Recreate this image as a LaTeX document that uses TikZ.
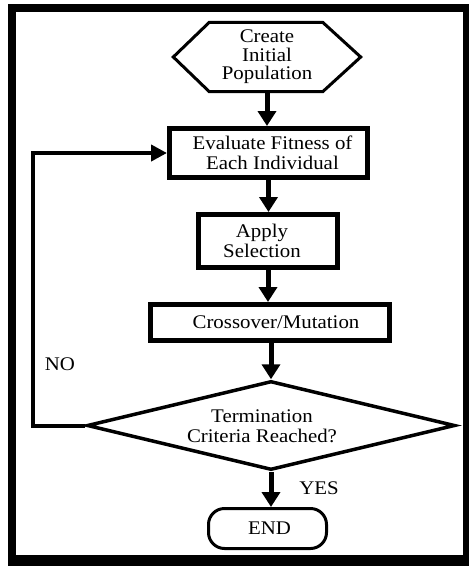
\documentclass[tikz,border=0pt]{standalone}
\usepackage{fontspec}
\setmainfont{Liberation Serif}[FakeStretch=1.08]
\usetikzlibrary{arrows.meta,shapes.geometric}
\begin{document}
\begin{tikzpicture}[x=1pt,y=-1pt,
  every node/.style={font=\fontsize{19.3}{20}\selectfont, align=center, inner sep=0pt},
  boxthick/.style={draw, line width=5pt, rectangle},
  flow/.style={line width=5pt, -{Triangle[width=18pt,length=15pt]}},
  loopline/.style={line width=4pt, -{Triangle[width=16pt,length=16pt]}},
  shapeline/.style={line width=3pt},
  lbl/.style={}]
\useasboundingbox (0,0) rectangle (469,566);
\fill[black] (8,4) rectangle (469,566);
\fill[white] (16,12) rectangle (463,555);

\node[minimum width=187pt, minimum height=69pt,
  font=\fontsize{19.3}{18.5}\selectfont] (hex) at (267,57) {Create\\Initial\\Population};
\draw[shapeline, line join=miter] (hex.west) -- ([xshift=36pt]hex.north west) -- ([xshift=-38pt]hex.north east)
  -- (hex.east) -- ([xshift=-38pt]hex.south east) -- ([xshift=36pt]hex.south west) -- cycle;

\node[boxthick, minimum width=198pt, minimum height=49pt] (eval) at (268.5,153) {};
\node (evaltext) at ([xshift=4pt]eval.center) {Evaluate Fitness of\\Each Individual};
\node[boxthick, minimum width=139pt, minimum height=53pt] (apply) at (268,241) {};
\node (applytext) at ([xshift=-6pt]apply.center) {Apply\\Selection};
\node[boxthick, minimum width=239pt, minimum height=36pt] (cross) at (270,322.5) {};
\node (crosstext) at ([xshift=6pt]cross.center) {Crossover/Mutation};
\node[draw, shape=diamond, aspect=4, line width=3.5pt, minimum width=368pt, minimum height=89pt] (dia) at (271,425.5) {};
\node (diatext) at ([xshift=-9pt,yshift=-1pt]dia.center) {Termination\\Criteria Reached?};
\node[draw, shapeline, rounded corners=16pt, minimum width=118pt, minimum height=40pt] (end) at (267.5,528.5) {};
\node (endtext) at ([xshift=2pt]end.center) {END};

\draw[flow] (hex.south) -- (hex.south |- eval.north);
\draw[flow] (eval.south) -- (eval.south |- apply.north);
\draw[flow] (apply.south) -- (apply.south |- cross.north);
\draw[flow] (cross.south -| dia.north) -- (dia.north);
\draw[flow] (dia.south) -- (dia.south |- end.north);
\draw[loopline] (dia.west) -- ([xshift=-52pt]dia.west) |- (eval.west);

\node[lbl] (no) at (60,364) {NO};
\node[lbl] (yes) at (319,488) {YES};
\end{tikzpicture}
\end{document}
